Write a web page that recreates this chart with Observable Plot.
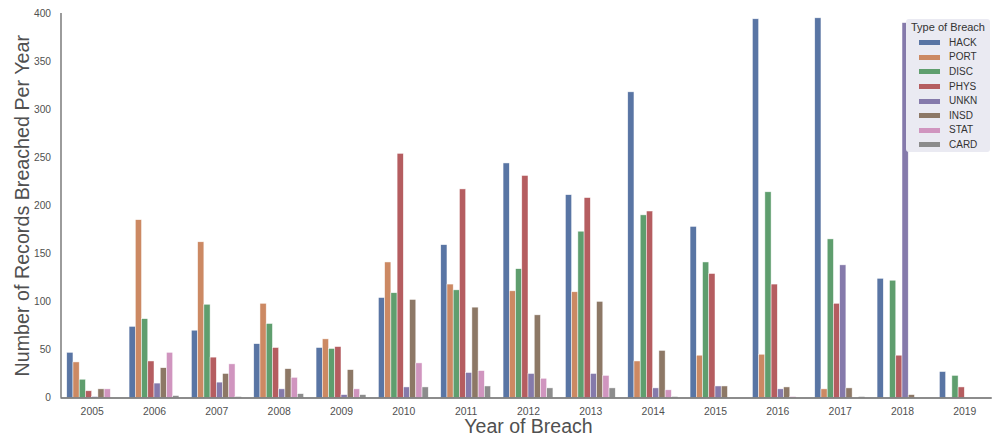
<!DOCTYPE html>
<html>
<head>
<meta charset="utf-8">
<script src="https://cdn.jsdelivr.net/npm/d3@7"></script>
<script src="https://cdn.jsdelivr.net/npm/@observablehq/plot@0.6"></script>
<style>
  html, body { margin: 0; padding: 0; background: #fff; }
  #wrap { position: relative; width: 998px; height: 441px; font-family: "Liberation Sans", Arial, sans-serif; }
  #legend { position: absolute; left: 906px; top: 19px; width: 84px; height: 133px; background: #eaeaf2; border-radius: 3px; color: #333; }
  #legend .title { font-size: 11px; text-align: center; margin-top: 2px; line-height: 13px; }
  #legend .row { position: absolute; left: 13px; height: 14px; font-size: 10px; line-height: 14px; }
  #legend .sw { position: absolute; left: 0; top: 4.5px; width: 21px; height: 5px; }
  #legend .lab { position: absolute; left: 30px; top: 0; white-space: nowrap; }
</style>
</head>
<body>
<div id="wrap"></div>
<script>
const years = ["2005","2006","2007","2008","2009","2010","2011","2012","2013","2014","2015","2016","2017","2018","2019"];
const types = ["HACK","PORT","DISC","PHYS","UNKN","INSD","STAT","CARD"];
const colors = ["#5975a4","#cc8963","#5f9e6e","#b55d60","#857aab","#8d7866","#d095bf","#8c8c8c"];

const HACK = [47, 74, 70, 56, 52, 104, 159, 244, 211, 318, 178, 394, 395, 124, 27];
const PORT = [37, 185, 162, 98, 61, 141, 118, 111, 110, 38, 44, 45, 9, 0, 0];
const DISC = [19, 82, 97, 77, 51, 109, 112, 134, 173, 190, 141, 214, 165, 122, 23];
const PHYS = [7, 38, 42, 52, 53, 254, 217, 231, 208, 194, 129, 118, 98, 44, 11];
const UNKN = [1, 15, 16, 9, 3, 11, 26, 25, 25, 10, 12, 9, 138, 390, 0];
const INSD = [9, 31, 25, 30, 29, 102, 94, 86, 100, 49, 12, 11, 10, 3, 0];
const STAT = [9, 47, 35, 21, 9, 36, 28, 20, 23, 8, 0, 1, 0, 0, 0];
const CARD = [0, 2, 1, 4, 3, 11, 12, 10, 10, 1, 0, 0, 1, 0, 0];
const yTicks = [0, 50, 100, 150, 200, 250, 300, 350, 400];

const series = {HACK, PORT, DISC, PHYS, UNKN, INSD, STAT, CARD};
const nT = types.length;
const groupWidth = 0.8;
const bw = groupWidth / nT;
const rows = [];
years.forEach((yr, i) => {
  types.forEach((t, k) => {
    const x1 = i - groupWidth / 2 + k * bw;
    rows.push({year: yr, type: t, value: series[t][i], x1, x2: x1 + bw});
  });
});

const spine = "#666";
const textColor = "#505050";
const plot = Plot.plot({
  width: 998,
  height: 441,
  marginLeft: 60.5,
  marginRight: 2.5,
  marginTop: 13,
  marginBottom: 43.5,
  style: {fontFamily: '"Liberation Sans", Arial, sans-serif', color: textColor, background: "transparent"},
  x: {type: "linear", domain: [-0.5, years.length - 0.5]},
  y: {domain: [0, 400]},
  color: {domain: types, range: colors},
  marks: [
    Plot.rectY(rows, {x1: "x1", x2: "x2", y: "value", fill: "type", stroke: "white", strokeWidth: 0.6, strokeOpacity: 0.8}),
    Plot.axisX({ticks: d3.range(years.length), tickFormat: i => years[i], tickSize: 0, tickPadding: 9.5, fontSize: 10.4, label: null}),
    Plot.axisY({ticks: yTicks, tickSize: 0, tickPadding: 10, fontSize: 10.2, label: null}),
    Plot.ruleY([0], {x1: -0.5, x2: years.length - 0.56, stroke: spine, strokeWidth: 1.3}),
    Plot.ruleX([-0.5], {y1: 0, y2: 400, stroke: spine, strokeWidth: 1.3}),
    Plot.text(["Year of Breach"], {frameAnchor: "bottom", textAnchor: "middle", lineAnchor: "middle", dy: 29, fontSize: 19.5, fill: textColor}),
    Plot.text(["Number of Records Breached Per Year"], {frameAnchor: "left", textAnchor: "middle", lineAnchor: "middle", dx: -38, rotate: -90, fontSize: 19.7, fill: textColor})
  ]
});

const wrap = document.getElementById("wrap");
wrap.appendChild(plot);

const legend = document.createElement("div");
legend.id = "legend";
const title = document.createElement("div");
title.className = "title";
title.textContent = "Type of Breach";
legend.appendChild(title);
types.forEach((t, k) => {
  const row = document.createElement("div");
  row.className = "row";
  row.style.top = (16.7 + k * 14.6) + "px";
  const sw = document.createElement("div");
  sw.className = "sw";
  sw.style.background = colors[k];
  const lab = document.createElement("div");
  lab.className = "lab";
  lab.textContent = t;
  row.appendChild(sw);
  row.appendChild(lab);
  legend.appendChild(row);
});
wrap.appendChild(legend);
</script>
</body>
</html>
